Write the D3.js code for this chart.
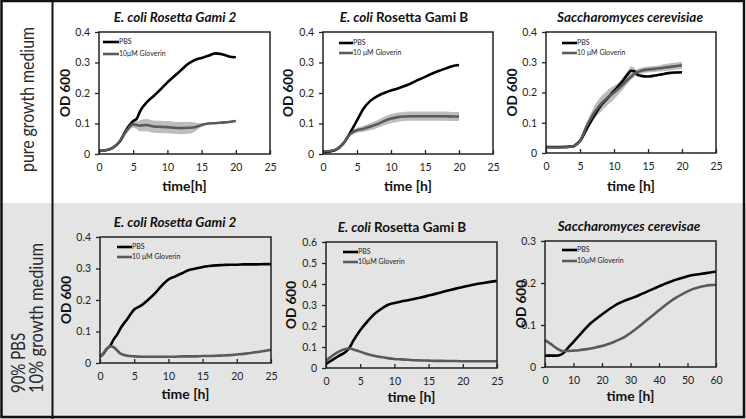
<!DOCTYPE html>
<html><head><meta charset="utf-8">
<script src="https://cdn.jsdelivr.net/npm/d3@7"></script>
<style>body{margin:0;background:#fff}svg{display:block}text{font-family:Lato,"Open Sans",sans-serif}</style>
</head><body>
<svg id="c" width="746" height="419"></svg>
<script>
// ---------- DATA ----------
const rowLabels = ["pure growth medium", ["90% PBS", "10% growth medium"]];
const titles = ["E. coli Rosetta Gami 2", "E. coli Rosetta Gami B", "Saccharomyces cerevisiae",
                "E. coli Rosetta Gami 2", "E. coli Rosetta Gami B", "Saccharomyces cerevisae"];
const legendPBS = "PBS";
const legendGlov = ["10μM Gloverin", "10 μM Gloverin", "10 μM Gloverin", "10 μM Gloverin", "10μM Gloverin", "10μM Gloverin"];
const xLabels = ["time[h]", "time [h]", "time [h]", "time [h]", "time [h]", "time [h]"];
const yLabel = "OD 600";
const xTicksA = [0, 5, 10, 15, 20, 25];
const xTicksB = [0, 10, 20, 30, 40, 50, 60];
const yTicks04 = [0, 0.1, 0.2, 0.3, 0.4];
const yTicks06 = [0, 0.1, 0.2, 0.3, 0.4, 0.5, 0.6];
const yTicks03 = [0, 0.1, 0.2, 0.3];

// Panel 1: E. coli Rosetta Gami 2, pure medium
const p1Time = [0,1,2,3,4,5,5.5,6,7,8,9,10,11,12,13,14,15,16,17,18,19,20];
const p1PBS  = [0.010,0.012,0.020,0.040,0.080,0.108,0.115,0.140,0.170,0.190,0.212,0.235,0.255,0.275,0.295,0.308,0.315,0.322,0.330,0.327,0.320,0.317];
const p1Glov = [0.010,0.012,0.020,0.040,0.075,0.097,0.095,0.093,0.095,0.090,0.089,0.088,0.086,0.085,0.086,0.088,0.095,0.100,0.101,0.103,0.105,0.108];
const p1GlovErr = [0.001,0.002,0.003,0.005,0.008,0.010,0.012,0.018,0.020,0.020,0.020,0.020,0.020,0.020,0.020,0.015,0.006,0.003,0.003,0.003,0.003,0.003];

// Panel 2: E. coli Rosetta Gami B, pure medium
const p2Time = [0,1,2,3,4,5,6,7,8,9,10,11,12,13,14,15,16,17,18,19,20];
const p2PBS  = [0.005,0.008,0.015,0.035,0.070,0.110,0.150,0.175,0.190,0.200,0.208,0.215,0.223,0.232,0.243,0.253,0.263,0.272,0.280,0.288,0.292];
const p2Glov = [0.008,0.010,0.015,0.035,0.065,0.078,0.083,0.090,0.098,0.108,0.116,0.121,0.123,0.124,0.124,0.124,0.124,0.124,0.124,0.123,0.123];
const p2GlovErr = [0.002,0.002,0.003,0.004,0.006,0.008,0.010,0.012,0.013,0.014,0.015,0.015,0.015,0.015,0.015,0.015,0.015,0.015,0.015,0.015,0.015];

// Panel 3: Saccharomyces cerevisiae, pure medium
const p3Time = [0,2,4,4.5,5,6,7,8,9,10,11,12,12.5,13,13.5,14,15,16,17,18,19,20];
const p3PBS  = [0.020,0.020,0.022,0.030,0.040,0.080,0.120,0.155,0.180,0.205,0.230,0.260,0.272,0.270,0.258,0.255,0.253,0.256,0.260,0.264,0.266,0.267];
const p3PBSErr = [0.002,0.002,0.002,0.003,0.004,0.008,0.010,0.010,0.010,0.010,0.010,0.012,0.015,0.012,0.006,0.004,0.004,0.004,0.004,0.004,0.004,0.004];
const p3Glov = [0.018,0.018,0.022,0.028,0.040,0.090,0.130,0.160,0.182,0.200,0.220,0.242,0.252,0.262,0.268,0.272,0.276,0.278,0.281,0.284,0.287,0.290];
const p3GlovErr = [0.003,0.003,0.004,0.005,0.006,0.012,0.020,0.025,0.025,0.022,0.018,0.012,0.010,0.010,0.010,0.010,0.010,0.010,0.011,0.012,0.012,0.012];

// Panel 4: E. coli Rosetta Gami 2, 90% PBS
const p4Time = [0,0.5,1,1.5,2,2.5,3,4,5,6,7,8,9,10,11,12,13,14,15,16,17,18,19,20,21,22,23,24,25];
const p4PBS  = [0.020,0.030,0.045,0.055,0.075,0.090,0.110,0.140,0.170,0.182,0.200,0.220,0.245,0.265,0.275,0.285,0.295,0.300,0.305,0.308,0.310,0.311,0.312,0.312,0.313,0.313,0.313,0.314,0.314];
const p4Glov = [0.020,0.030,0.045,0.053,0.050,0.040,0.030,0.023,0.021,0.020,0.020,0.020,0.020,0.020,0.020,0.021,0.021,0.021,0.022,0.022,0.023,0.024,0.025,0.027,0.029,0.032,0.035,0.038,0.042];

// Panel 5: E. coli Rosetta Gami B, 90% PBS
const p5Time = [0,1,2,3,3.5,4,5,6,7,8,9,10,11,12,13,14,15,16,17,18,19,20,21,22,23,24,25];
const p5PBS  = [0.020,0.040,0.060,0.080,0.100,0.130,0.180,0.220,0.255,0.280,0.300,0.310,0.317,0.323,0.330,0.337,0.345,0.353,0.362,0.370,0.378,0.386,0.393,0.400,0.405,0.410,0.415];
const p5Glov = [0.035,0.060,0.080,0.092,0.093,0.088,0.078,0.067,0.058,0.052,0.047,0.043,0.041,0.039,0.037,0.036,0.035,0.034,0.034,0.033,0.033,0.032,0.032,0.032,0.032,0.032,0.032];

// Panel 6: Saccharomyces cerevisae, 90% PBS
const p6Time = [0,2,4,5,6,8,10,12,14,16,18,20,22,24,26,28,30,32,34,36,38,40,42,44,46,48,50,52,54,56,58,60];
const p6PBS  = [0.027,0.027,0.027,0.028,0.031,0.045,0.060,0.075,0.090,0.104,0.115,0.125,0.135,0.144,0.152,0.158,0.163,0.168,0.174,0.180,0.186,0.192,0.198,0.203,0.208,0.212,0.216,0.219,0.221,0.223,0.225,0.227];
const p6Glov = [0.064,0.055,0.045,0.041,0.038,0.038,0.039,0.040,0.042,0.044,0.047,0.050,0.054,0.059,0.065,0.072,0.081,0.091,0.102,0.113,0.124,0.135,0.146,0.156,0.165,0.173,0.180,0.186,0.190,0.193,0.195,0.196];

// ---------- LAYOUT ----------
const panels = [
  {t:p1Time, a:p1PBS, b:p1Glov, bErr:p1GlovErr, xd:[0,25], xt:xTicksA, yd:[0,0.4], yt:yTicks04, box:[99,270,32,154], title:[175,22], yl:70, xl:191, leg:[4,20,10,22]},
  {t:p2Time, a:p2PBS, b:p2Glov, bErr:p2GlovErr, xd:[0,25], xt:xTicksA, yd:[0,0.4], yt:yTicks04, box:[323,493,32,154], title:[404,22], yl:293, xl:191, leg:[16,30,11,21]},
  {t:p3Time, a:p3PBS, aErr:p3PBSErr, b:p3Glov, bErr:p3GlovErr, xd:[0,25], xt:xTicksA, yd:[0,0.4], yt:yTicks04, box:[546,716,32,153], title:[630,22], yl:517, xl:191, leg:[16,31,11,21]},
  {t:p4Time, a:p4PBS, b:p4Glov, xd:[0,25], xt:xTicksA, yd:[0,0.4], yt:yTicks04, box:[100,271,237,363], title:[175,227], yl:71, xl:399, leg:[17,32,10,20]},
  {t:p5Time, a:p5PBS, b:p5Glov, xd:[0,25], xt:xTicksA, yd:[0,0.6], yt:yTicks06, box:[326,497,242,368], title:[402,232], yl:296, xl:402, leg:[17,32,10,20]},
  {t:p6Time, a:p6PBS, b:p6Glov, xd:[0,60], xt:xTicksB, yd:[0,0.3], yt:yTicks03, box:[545,716,241,367], title:[629,231], yl:526, xl:401, leg:[17,32,9,20]}
];

const svg = d3.select("#c");
svg.append("rect").attr("x",0).attr("y",0).attr("width",746).attr("height",419).attr("fill","#fff");
svg.append("rect").attr("x",0).attr("y",203).attr("width",746).attr("height",216).attr("fill","#e4e4e4");
svg.append("rect").attr("x",1.5).attr("y",1).attr("width",742.5).attr("height",416).attr("fill","none").attr("stroke","#111").attr("stroke-width",2.5);
svg.append("line").attr("x1",52.5).attr("x2",52.5).attr("y1",0).attr("y2",419).attr("stroke","#111").attr("stroke-width",2);

// row labels, compressed horizontally to their spans (narrow humanist face in the reference)
function rowLabel(txt, bx, by, width){
  svg.append("text").attr("transform",`translate(${bx},${by}) rotate(-90)`)
    .attr("font-size",20).attr("font-weight",400).attr("fill","#2a2a2a")
    .attr("textLength",width).attr("lengthAdjust","spacingAndGlyphs").text(txt);
}
rowLabel(rowLabels[0], 34, 172, 145);
rowLabel(rowLabels[1][0], 25, 393, 60);
rowLabel(rowLabels[1][1], 43, 393, 150);

const italicPart = [{it:"E. coli Rosetta Gami 2"},{it:"E. coli",rest:" Rosetta Gami B"},{it:"Saccharomyces cerevisiae"},
                    {it:"E. coli Rosetta Gami 2"},{it:"E. coli",rest:" Rosetta Gami B"},{it:"Saccharomyces cerevisae"}];

panels.forEach((p,i)=>{
  const [L,R,T,B] = p.box;
  const x = d3.scaleLinear().domain(p.xd).range([L,R]);
  const y = d3.scaleLinear().domain(p.yd).range([B,T]);
  const g = svg.append("g");
  const idx = d3.range(p.t.length);

  const band = (vals, errs) => d3.area().x(k=>x(p.t[k])).y0(k=>y(vals[k]-errs[k])).y1(k=>y(vals[k]+errs[k])).curve(d3.curveMonotoneX)(idx);
  if (p.bErr) g.append("path").attr("d",band(p.b,p.bErr)).attr("fill","#bdbdbd");
  if (p.aErr) g.append("path").attr("d",band(p.a,p.aErr)).attr("fill","#b0b0b0").attr("opacity",0.8);

  const line = vals => d3.line().x(k=>x(p.t[k])).y(k=>y(vals[k])).curve(d3.curveMonotoneX)(idx);
  g.append("path").attr("d",line(p.a)).attr("fill","none").attr("stroke","#000").attr("stroke-width",2.6);
  g.append("path").attr("d",line(p.b)).attr("fill","none").attr("stroke","#5a5a5a").attr("stroke-width",2.6);

  g.append("rect").attr("x",L).attr("y",T).attr("width",R-L).attr("height",B-T).attr("fill","none").attr("stroke","#222").attr("stroke-width",1.5);

  const xa = g.append("g").attr("transform",`translate(0,${B})`)
    .call(d3.axisBottom(x).tickValues(p.xt).tickSize(-4).tickPadding(10).tickFormat(d3.format("d")));
  xa.select(".domain").remove();
  xa.selectAll("line").attr("stroke","#222").attr("stroke-width",1.3);
  xa.selectAll("text").attr("font-size",10.5).attr("fill","#222").attr("font-family","Lato");
  const ya = g.append("g").attr("transform",`translate(${L},0)`)
    .call(d3.axisLeft(y).tickValues(p.yt).tickSize(4).tickPadding(5).tickFormat(d=>d===0?"0":d3.format(".1f")(d)));
  ya.select(".domain").remove();
  ya.selectAll("line").attr("stroke","#222").attr("stroke-width",1.3);
  ya.selectAll("text").attr("font-size",10.5).attr("fill","#222").attr("font-family","Lato");

  const tt = g.append("text").attr("x",p.title[0]).attr("y",p.title[1]).attr("text-anchor","middle")
    .attr("font-size",13.5).attr("font-weight","bold").attr("fill","#111");
  tt.append("tspan").attr("font-style","italic").text(italicPart[i].it);
  if (italicPart[i].rest) tt.append("tspan").text(italicPart[i].rest);

  g.append("text").attr("transform",`translate(${p.yl},${(T+B)/2}) rotate(-90)`).attr("text-anchor","middle")
    .attr("font-size",13.5).attr("font-weight","bold").attr("fill","#111").text(yLabel);
  g.append("text").attr("x",(L+R)/2).attr("y",p.xl).attr("text-anchor","middle")
    .attr("font-size",14).attr("font-weight","bold").attr("fill","#111").text(xLabels[i]);

  const [lx0,lx1,ly0,ly1] = p.leg;
  g.append("line").attr("x1",L+lx0).attr("x2",L+lx1).attr("y1",T+ly0).attr("y2",T+ly0).attr("stroke","#000").attr("stroke-width",2.6);
  g.append("line").attr("x1",L+lx0).attr("x2",L+lx1).attr("y1",T+ly1).attr("y2",T+ly1).attr("stroke","#5a5a5a").attr("stroke-width",2.6);
  g.append("text").attr("x",L+lx1).attr("y",T+ly0).attr("dy","0.35em").attr("font-size",7).attr("fill","#222").text(legendPBS);
  g.append("text").attr("x",L+lx1).attr("y",T+ly1).attr("dy","0.35em").attr("font-size",7).attr("fill","#222").text(legendGlov[i]);
});
</script>
</body></html>
